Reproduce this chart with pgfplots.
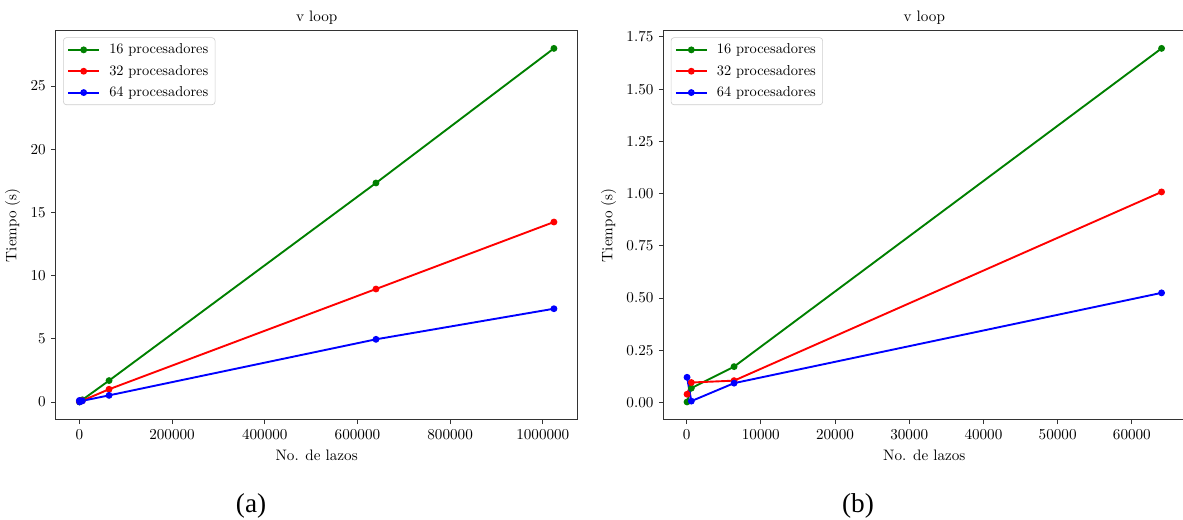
\documentclass[border=0pt]{standalone}
\usepackage{fontspec}
\usepackage{pgfplots}
\pgfplotsset{compat=1.18}
\newfontfamily\timesfont{Liberation Serif}
\definecolor{mgreen}{RGB}{0,128,0}
\definecolor{mred}{RGB}{255,0,0}
\definecolor{mblue}{RGB}{0,0,255}
\pgfplotsset{
  mystyle/.style={
    scale only axis,
    width=344.5pt, height=256.7pt,
    anchor=north west,
    axis line style={black!80, line width=0.6pt},
    tick align=outside,
    xtick pos=lower, ytick pos=left,
    major tick length=3pt,
    tick style={black!80, line width=0.6pt},
    scaled ticks=false,
    title={v loop},
    title style={yshift=-5.5pt},
    xlabel={No. de lazos},
    ylabel={Tiempo (s)},
    every axis plot/.append style={line width=1.25pt, mark=*, mark size=1.6pt},
    legend cell align=left,
    legend style={at={(axis description cs:0,1)}, anchor=north west,
      xshift=4.9pt, yshift=-4.4pt, draw=black!20, rounded corners=2pt,
      fill=white, fill opacity=0.8, text opacity=1,
      inner xsep=2.5pt, inner ysep=2pt, column sep=4pt,
      row sep=2pt, font=\fontsize{9.5}{11.4}\selectfont},
    legend image code/.code={\draw[mark repeat=2,mark phase=2,#1] plot coordinates {(0pt,0pt) (10.25pt,0pt) (20.5pt,0pt)};},
  }
}
\begin{document}
\begin{tikzpicture}
\useasboundingbox (0,0) rectangle (780.8pt,-343.2pt);
\begin{axis}[mystyle, at={(36.76pt,-20.26pt)},
  xmin=-51133, xmax=1075197, ymin=-1.396, ymax=29.38,
  xtick={0,200000,400000,600000,800000,1000000},
  ytick={0,5,10,15,20,25},
  xticklabel style={/pgf/number format/.cd, fixed, 1000 sep={}},
  yticklabel style={/pgf/number format/.cd, fixed, 1000 sep={}},
]
\addplot[color=mgreen] coordinates {(64,0.003) (640,0.069) (6400,0.172) (64000,1.695) (640000,17.33) (1024000,27.98)};
\addlegendentry{16 procesadores}
\addplot[color=mred] coordinates {(64,0.040) (640,0.096) (6400,0.105) (64000,1.008) (640000,8.94) (1024000,14.24)};
\addlegendentry{32 procesadores}
\addplot[color=mblue] coordinates {(64,0.121) (640,0.007) (6400,0.093) (64000,0.525) (640000,4.96) (1024000,7.38)};
\addlegendentry{64 procesadores}
\end{axis}
\begin{axis}[mystyle, at={(437.8pt,-20.26pt)},
  xmin=-3133, xmax=67197, ymin=-0.0816, ymax=1.7796,
  xtick={0,10000,20000,30000,40000,50000,60000},
  ytick={0,0.25,0.5,0.75,1,1.25,1.5,1.75},
  xticklabel style={/pgf/number format/.cd, fixed, 1000 sep={}},
  yticklabel style={/pgf/number format/.cd, fixed, fixed zerofill, precision=2},
]
\addplot[color=mgreen] coordinates {(64,0.003) (640,0.069) (6400,0.172) (64000,1.695)};
\addlegendentry{16 procesadores}
\addplot[color=mred] coordinates {(64,0.040) (640,0.096) (6400,0.105) (64000,1.008)};
\addlegendentry{32 procesadores}
\addplot[color=mblue] coordinates {(64,0.121) (640,0.007) (6400,0.093) (64000,0.525)};
\addlegendentry{64 procesadores}
\end{axis}
\node[font=\timesfont\fontsize{18}{20}\selectfont] at (165.7pt,-334pt) {(a)};
\node[font=\timesfont\fontsize{18}{20}\selectfont] at (566.3pt,-334pt) {(b)};
\end{tikzpicture}
\end{document}
